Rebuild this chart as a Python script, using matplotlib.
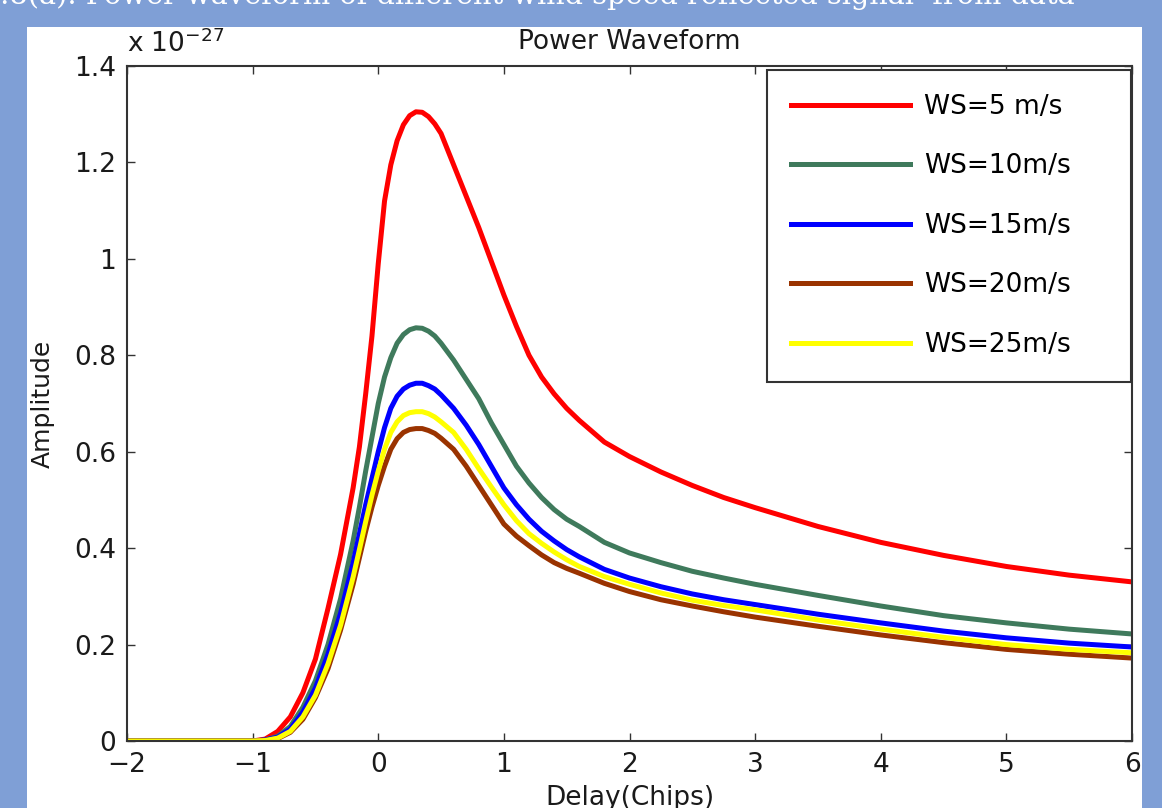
import numpy as np
import matplotlib
matplotlib.use('Agg')
import matplotlib.pyplot as plt
from matplotlib.patches import Rectangle

plt.rcParams['font.family'] = ['DejaVu Sans']

# delay in chips, amplitude in units of 1e-27
delay = [-2, -1, -0.9, -0.8, -0.7, -0.6, -0.5, -0.4, -0.3, -0.2, -0.15, -0.1, -0.05, 0, 0.05, 0.1,
         0.15, 0.2, 0.25, 0.3, 0.35, 0.4, 0.45, 0.5, 0.6, 0.7, 0.8, 0.9, 1.0, 1.1, 1.2, 1.3, 1.4, 1.5,
         1.6, 1.8, 2.0, 2.25, 2.5, 2.75, 3.0, 3.5, 4.0, 4.5, 5.0, 5.5, 6.0]

ws5 = [0, 0, 0.004, 0.02, 0.05, 0.10, 0.17, 0.275, 0.387, 0.525, 0.61, 0.72, 0.84, 0.99, 1.12, 1.195,
       1.245, 1.278, 1.297, 1.305, 1.304, 1.295, 1.28, 1.26, 1.195, 1.13, 1.065, 0.995, 0.925, 0.86, 0.80,
       0.755, 0.72, 0.69, 0.665, 0.62, 0.59, 0.558, 0.53, 0.505, 0.484, 0.445, 0.412, 0.385, 0.362, 0.344, 0.33]
ws10 = [0, 0, 0.002, 0.01, 0.03, 0.07, 0.125, 0.20, 0.295, 0.415, 0.485, 0.56, 0.63, 0.70, 0.755, 0.795,
        0.825, 0.843, 0.853, 0.857, 0.856, 0.85, 0.84, 0.825, 0.79, 0.75, 0.71, 0.66, 0.615, 0.57, 0.535,
        0.505, 0.48, 0.46, 0.445, 0.412, 0.39, 0.37, 0.352, 0.338, 0.325, 0.302, 0.28, 0.26, 0.245, 0.232, 0.222]
ws15 = [0, 0, 0.002, 0.008, 0.025, 0.06, 0.11, 0.18, 0.265, 0.37, 0.43, 0.49, 0.545, 0.60, 0.65, 0.69,
        0.715, 0.73, 0.738, 0.742, 0.742, 0.737, 0.73, 0.718, 0.69, 0.655, 0.615, 0.57, 0.525, 0.49, 0.46,
        0.435, 0.415, 0.397, 0.382, 0.356, 0.338, 0.32, 0.305, 0.293, 0.283, 0.263, 0.245, 0.228, 0.214, 0.203, 0.195]
ws20 = [0, 0, 0.001, 0.005, 0.018, 0.045, 0.09, 0.15, 0.23, 0.325, 0.38, 0.435, 0.485, 0.53, 0.57, 0.605,
        0.627, 0.64, 0.646, 0.648, 0.648, 0.644, 0.638, 0.628, 0.605, 0.57, 0.53, 0.49, 0.45, 0.425, 0.405,
        0.386, 0.37, 0.358, 0.348, 0.327, 0.31, 0.293, 0.28, 0.268, 0.257, 0.238, 0.22, 0.204, 0.19, 0.18, 0.172]
ws25 = [0, 0, 0.001, 0.006, 0.02, 0.05, 0.095, 0.16, 0.24, 0.34, 0.397, 0.455, 0.51, 0.56, 0.605, 0.64,
        0.662, 0.675, 0.681, 0.683, 0.683, 0.679, 0.672, 0.662, 0.64, 0.605, 0.565, 0.527, 0.49, 0.457, 0.43,
        0.41, 0.392, 0.376, 0.362, 0.341, 0.325, 0.307, 0.292, 0.281, 0.272, 0.251, 0.232, 0.215, 0.20, 0.19, 0.183]

series = [
    (ws5, 'WS=5 m/s', '#ff0000'),
    (ws10, 'WS=10m/s', '#3f7a5c'),
    (ws15, 'WS=15m/s', '#0000ff'),
    (ws20, 'WS=20m/s', '#9a3300'),
    (ws25, 'WS=25m/s', '#ffff00'),
]

W, H = 1162, 808
fig = plt.figure(figsize=(W / 100, H / 100), dpi=100)
fig.patch.set_facecolor('#7f9fd6')

# white slide panel behind the plot
fig.patches.append(Rectangle((27 / W, 0), (1142 - 27) / W, (H - 27) / H,
                             transform=fig.transFigure, facecolor='white', edgecolor='none', zorder=-10))

fig.text(1075 / W, 1 - 4 / H, 'Fig 4.8(a). Power waveform of different wind speed reflected signal  from data',
         ha='right', va='baseline', color='white', fontsize=20.8, family='DejaVu Serif')

ax = fig.add_axes([127 / W, (H - 741) / H, (1132 - 127) / W, (741 - 66) / H])
ax.set_facecolor('white')

for vals, lab, col in series:
    ax.plot(delay, vals, color=col, lw=3.6, label=lab, solid_joinstyle='round')

ax.set_xlim(-2, 6)
ax.set_ylim(0, 1.4)
ax.set_xticks(np.arange(-2, 7, 1))
ax.set_xticklabels(['\u22122', '\u22121', '0', '1', '2', '3', '4', '5', '6'])
ax.set_yticks(np.arange(0, 1.41, 0.2))
ax.set_yticklabels(['0', '0.2', '0.4', '0.6', '0.8', '1', '1.2', '1.4'])
ax.tick_params(direction='in', length=6, width=1, colors='#333333', labelcolor='#1a1a1a',
               labelsize=19, top=True, right=True, pad=8)
for s in ax.spines.values():
    s.set_linewidth(1.5)
    s.set_color('#333333')

ax.set_title('Power Waveform', fontsize=19, color='#1a1a1a', pad=12)
ax.set_xlabel('Delay(Chips)', fontsize=19, color='#1a1a1a', labelpad=5)
ax.set_ylabel('Amplitude', fontsize=18, color='#1a1a1a', labelpad=14)

ax.text(0.0, 1.012, 'x 10$^{\\mathregular{-27}}$', transform=ax.transAxes, fontsize=19,
        color='#1a1a1a', ha='left', va='bottom')

leg = ax.legend(loc='upper left', bbox_to_anchor=(0.637, 0.994, 0.362, 0.0), mode='expand',
                borderaxespad=0, fontsize=19, handlelength=4.5, handletextpad=0.55,
                labelspacing=1.27, borderpad=0.9, fancybox=False, framealpha=1)
leg.get_frame().set_edgecolor('#333333')
leg.get_frame().set_linewidth(1.5)

plt.savefig('out.png', dpi=100, facecolor=fig.get_facecolor())
